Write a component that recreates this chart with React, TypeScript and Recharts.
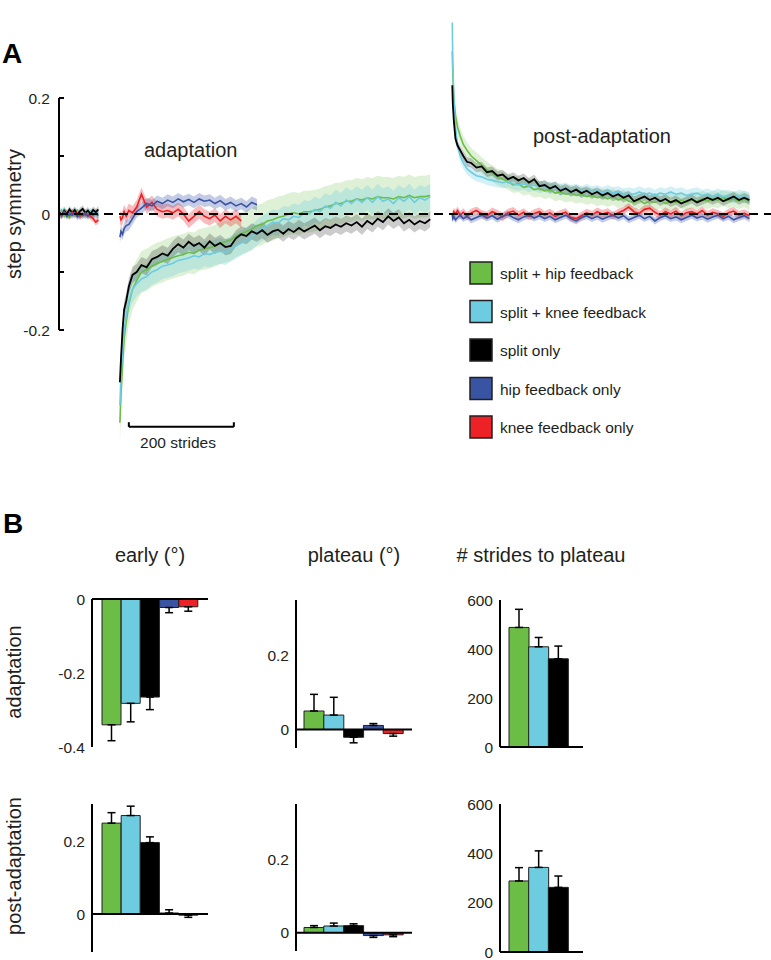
import React from "react";
import {
  Area,
  Bar,
  BarChart,
  Cell,
  ComposedChart,
  ErrorBar,
  Line,
  ReferenceLine,
  XAxis,
  YAxis,
} from "recharts";

const FONT = "'Liberation Sans', Arial, Helvetica, sans-serif";
const INK = "#231f20";

// groups, in legend order
const groupNames = [
  "split + hip feedback",
  "split + knee feedback",
  "split only",
  "hip feedback only",
  "knee feedback only",
];
const groupKeys = ["green", "cyan", "black", "blue", "red"];
const groupColors = ["#6bbd45", "#6dcce0", "#000000", "#3a54a4", "#ec2227"];
const bandOpacity = [0.22, 0.3, 0.2, 0.3, 0.3];
// draw order for the traces (blue on top)
const drawOrder = ["green", "cyan", "black", "red", "blue"];

// ---- panel A: step symmetry per stride ----
const baseStrides = [0, 5, 10, 15, 20, 25, 30, 35, 40, 45, 50, 55, 60, 65, 70, 75];
const baseGreen = [0.0, 0.006, -0.004, 0.004, -0.006, 0.002, -0.002, 0.006, -0.005, 0.003, -0.003, 0.004, -0.004, 0.002, -0.002, 0.0];
const baseCyan = [0.006, 0.002, 0.008, -0.002, 0.004, 0.0, 0.006, 0.002, -0.003, 0.004, 0.001, -0.002, 0.005, 0.0, 0.003, -0.001];
const baseBlack = [0.004, -0.002, 0.006, 0.0, 0.008, 0.002, 0.007, -0.001, 0.005, 0.009, 0.002, 0.006, 0.0, 0.007, 0.003, 0.008];
const baseBlue = [0.0, -0.003, 0.003, -0.004, 0.001, -0.002, 0.002, -0.005, 0.0, -0.003, 0.002, -0.004, 0.0, -0.002, 0.001, -0.003];
const baseRed = [0.002, -0.002, 0.004, 0.0, -0.003, 0.003, -0.001, 0.002, -0.004, 0.001, -0.002, 0.0, -0.004, -0.008, -0.014, -0.01];

const adaptStrides = [
  116, 118, 121, 124, 128, 133, 140, 148, 157,
  167, 177, 187, 197, 207, 217, 227, 237, 247, 257,
  267, 277, 287, 297, 307, 317, 327, 337, 347, 357,
  367, 377, 387, 397, 407, 417, 427, 437, 447, 457,
  467, 477, 487, 497, 507, 517, 527, 537, 547, 557,
  567, 577, 587, 597, 607, 617, 627, 637, 647, 657,
  667, 677, 687, 697, 707,
];
const adaptGreen = [
  -0.36, -0.31, -0.26, -0.215, -0.185, -0.155, -0.13, -0.115, -0.1,
  -0.096, -0.09, -0.085, -0.082, -0.078, -0.075, -0.072, -0.07, -0.066, -0.068,
  -0.062, -0.06, -0.058, -0.055, -0.05, -0.048, -0.045, -0.038, -0.034, -0.03,
  -0.026, -0.02, -0.018, -0.012, -0.01, -0.006, -0.004, 0.0, 0.002, 0.0,
  0.004, 0.004, 0.006, 0.008, 0.012, 0.014, 0.018, 0.018, 0.022, 0.022,
  0.026, 0.024, 0.028, 0.026, 0.03, 0.028, 0.028, 0.026, 0.03, 0.028,
  0.032, 0.028, 0.03, 0.03, 0.032,
];
const adaptCyan = [
  -0.33, -0.28, -0.235, -0.2, -0.175, -0.15, -0.13, -0.12, -0.112,
  -0.108, -0.1, -0.096, -0.09, -0.088, -0.085, -0.08, -0.078, -0.076, -0.072,
  -0.074, -0.068, -0.07, -0.066, -0.064, -0.066, -0.06, -0.055, -0.05, -0.045,
  -0.04, -0.032, -0.025, -0.02, -0.014, -0.016, -0.008, -0.01, -0.004, -0.006,
  0.002, 0.0, 0.008, 0.004, 0.014, 0.01, 0.02, 0.014, 0.024, 0.018,
  0.026, 0.02, 0.028, 0.02, 0.03, 0.022, 0.026, 0.018, 0.028, 0.022,
  0.03, 0.02, 0.028, 0.024, 0.03,
];
const adaptBlack = [
  -0.29, -0.25, -0.2, -0.165, -0.15, -0.125, -0.105, -0.1, -0.088,
  -0.092, -0.078, -0.074, -0.068, -0.072, -0.06, -0.052, -0.058, -0.048, -0.055,
  -0.05, -0.058, -0.047, -0.055, -0.05, -0.057, -0.055, -0.042, -0.035, -0.038,
  -0.03, -0.034, -0.028, -0.036, -0.03, -0.027, -0.034, -0.026, -0.031, -0.024,
  -0.03, -0.025, -0.02, -0.028, -0.021, -0.024, -0.018, -0.022, -0.016, -0.02,
  -0.014, -0.022, -0.012, -0.018, -0.008, -0.014, -0.004, -0.012, -0.006, -0.016,
  -0.01, -0.018, -0.012, -0.016, -0.009,
];
// hip / knee feedback only were recorded for a shorter adaptation period
const adaptBlue = [
  -0.04, -0.03, -0.035, -0.025, -0.02, -0.018, -0.008, 0.004, 0.01,
  0.018, 0.014, 0.022, 0.018, 0.024, 0.02, 0.026, 0.021, 0.025, 0.02,
  0.026, 0.022, 0.024, 0.018, 0.023, 0.016, 0.02, 0.014, 0.018, 0.012,
  0.02, 0.016,
];
const adaptRed = [
  -0.004, -0.01, -0.006, 0.004, -0.004, 0.006, 0.002, 0.012, 0.034,
  0.012, 0.02, 0.008, 0.004, 0.006, 0.002, 0.008, 0.0, -0.012, -0.004,
  0.004, -0.004, -0.008, -0.002, -0.012, -0.004, -0.01, -0.004, -0.012,
];

const postStrides = [
  749, 750, 752, 755, 759, 764, 770, 777, 785, 795,
  805, 815, 825, 835, 845, 855, 865, 875, 885, 895,
  905, 915, 925, 935, 945, 955, 965, 975, 985, 995,
  1005, 1015, 1025, 1035, 1045, 1055, 1065, 1075, 1085, 1095,
  1105, 1115, 1125, 1135, 1145, 1155, 1165, 1175, 1185, 1195,
  1205, 1215, 1225, 1235, 1245, 1255, 1265, 1275, 1285, 1295,
  1305, 1315,
];
const postGreen = [
  0.28, 0.24, 0.2, 0.17, 0.15, 0.135, 0.12, 0.11, 0.1, 0.092,
  0.084, 0.076, 0.07, 0.064, 0.06, 0.056, 0.05, 0.052, 0.046, 0.048,
  0.042, 0.044, 0.04, 0.042, 0.036, 0.038, 0.034, 0.036, 0.032, 0.034,
  0.03, 0.032, 0.028, 0.03, 0.026, 0.03, 0.024, 0.028, 0.022, 0.02,
  0.024, 0.018, 0.022, 0.02, 0.024, 0.018, 0.022, 0.02, 0.024, 0.02,
  0.024, 0.022, 0.026, 0.022, 0.026, 0.024, 0.028, 0.024, 0.026, 0.022,
  0.026, 0.02,
];
const postCyan = [
  0.33, 0.26, 0.2, 0.15, 0.12, 0.1, 0.088, 0.078, 0.072, 0.066,
  0.064, 0.06, 0.058, 0.056, 0.054, 0.056, 0.052, 0.05, 0.052, 0.048,
  0.05, 0.046, 0.048, 0.044, 0.046, 0.042, 0.044, 0.04, 0.042, 0.038,
  0.042, 0.038, 0.04, 0.036, 0.04, 0.036, 0.038, 0.034, 0.036, 0.034,
  0.038, 0.034, 0.036, 0.032, 0.036, 0.034, 0.038, 0.034, 0.036, 0.032,
  0.034, 0.036, 0.032, 0.034, 0.03, 0.034, 0.03, 0.032, 0.028, 0.032,
  0.03, 0.028,
];
const postBlack = [
  0.222, 0.19, 0.16, 0.13, 0.118, 0.11, 0.1, 0.09, 0.088, 0.08,
  0.082, 0.072, 0.074, 0.066, 0.068, 0.06, 0.064, 0.058, 0.062, 0.054,
  0.06, 0.048, 0.05, 0.044, 0.048, 0.04, 0.044, 0.038, 0.042, 0.036,
  0.04, 0.034, 0.038, 0.032, 0.036, 0.03, 0.034, 0.028, 0.032, 0.022,
  0.026, 0.03, 0.024, 0.028, 0.022, 0.026, 0.02, 0.024, 0.018, 0.022,
  0.026, 0.02, 0.024, 0.028, 0.024, 0.028, 0.022, 0.026, 0.03, 0.024,
  0.028, 0.024,
];
const postBlue = [
  -0.002, -0.008, -0.004, -0.01, -0.006, -0.002, -0.008, -0.004, -0.01, -0.006,
  -0.002, -0.007, -0.003, -0.009, -0.004, -0.001, -0.006, -0.01, -0.005, -0.002,
  -0.007, -0.003, -0.008, -0.004, -0.01, -0.006, -0.002, -0.008, -0.012, -0.006,
  -0.003, -0.008, -0.004, -0.009, -0.005, -0.002, -0.007, -0.003, -0.01, -0.006,
  -0.002, -0.008, -0.004, -0.012, -0.006, -0.003, -0.008, -0.005, -0.01, -0.006,
  -0.002, -0.007, -0.004, -0.009, -0.005, -0.002, -0.008, -0.004, -0.01, -0.006,
  -0.003, -0.008,
];
const postRed = [
  0.002, -0.004, 0.004, 0.0, 0.006, -0.002, 0.003, -0.004, 0.002, 0.006,
  0.0, -0.003, 0.004, 0.0, -0.005, 0.002, 0.005, -0.002, 0.003, -0.004,
  0.001, 0.004, -0.002, 0.002, -0.004, 0.0, 0.003, -0.006, -0.008, -0.003,
  0.002, -0.002, 0.004, 0.0, 0.003, -0.003, 0.002, 0.006, 0.012, 0.004,
  0.001, 0.008, 0.01, 0.003, -0.002, 0.004, 0.0, 0.005, -0.003, 0.002,
  0.004, 0.0, 0.006, -0.002, 0.003, 0.0, -0.004, 0.002, 0.005, -0.002,
  0.001, -0.003,
];

// s.e.m. half-widths of the shaded bands, order green, cyan, black, blue, red
const baseSem = [0.006, 0.006, 0.006, 0.006, 0.006];
const adaptSem = [0.036, 0.022, 0.014, 0.01, 0.012];
const postSem = [0.014, 0.01, 0.008, 0.006, 0.007];

const segments = [
  { strides: baseStrides, values: [baseGreen, baseCyan, baseBlack, baseBlue, baseRed], sem: baseSem, gapAfter: 96 },
  { strides: adaptStrides, values: [adaptGreen, adaptCyan, adaptBlack, adaptBlue, adaptRed], sem: adaptSem, gapAfter: 728 },
  { strides: postStrides, values: [postGreen, postCyan, postBlack, postBlue, postRed], sem: postSem, gapAfter: null },
];

type Row = { [k: string]: number | [number, number] | null };

function buildTraceRows(): Row[] {
  const rows: Row[] = [];
  segments.forEach((seg) => {
    seg.strides.forEach((s, i) => {
      const row: Row = { s };
      groupKeys.forEach((k, g) => {
        const v = seg.values[g][i];
        if (v === undefined) {
          row[k] = null;
          row[k + "Band"] = null;
        } else {
          row[k] = v;
          row[k + "Band"] = [v - seg.sem[g], v + seg.sem[g]];
        }
      });
      rows.push(row);
    });
    if (seg.gapAfter !== null) {
      const gap: Row = { s: seg.gapAfter };
      groupKeys.forEach((k) => {
        gap[k] = null;
        gap[k + "Band"] = null;
      });
      rows.push(gap);
    }
  });
  return rows;
}

const traceRows = buildTraceRows();
const traceTicks = [-0.2, -0.1, 0, 0.1, 0.2];

// ---- panel B: summary bars ----
const earlyAdapt = [-0.34, -0.282, -0.265, -0.023, -0.021];
const earlyAdaptErr = [0.043, 0.05, 0.034, 0.014, 0.012];
const plateauAdapt = [0.05, 0.039, -0.021, 0.011, -0.011];
const plateauAdaptErr = [0.045, 0.048, 0.015, 0.005, 0.007];
const stridesAdapt = [488, 409, 360];
const stridesAdaptErr = [74, 38, 52];
const earlyPost = [0.252, 0.273, 0.198, 0.003, -0.003];
const earlyPostErr = [0.029, 0.026, 0.016, 0.009, 0.006];
const plateauPost = [0.014, 0.018, 0.019, -0.008, -0.006];
const plateauPostErr = [0.005, 0.008, 0.005, 0.005, 0.005];
const stridesPost = [288, 343, 262];
const stridesPostErr = [54, 67, 46];

function SymmetryTick(props: any) {
  const { x, y, payload } = props;
  const v = payload.value;
  const label = Math.abs(v) === 0.1 ? "" : String(v);
  return (
    <g>
      <line x1={x} x2={x + 5} y1={y} y2={y} stroke="#000" strokeWidth={2} />
      {label ? (
        <text x={x - 9} y={y} dy="0.36em" textAnchor="end" fontSize={15.5} fill={INK} fontFamily={FONT}>
          {label}
        </text>
      ) : null}
    </g>
  );
}

function TracePanel() {
  return (
    <div style={{ position: "absolute", left: 0, top: 0 }}>
      <ComposedChart width={771} height={460} data={traceRows} margin={{ top: 11, right: 0, bottom: 14, left: 0 }}>
        <XAxis type="number" dataKey="s" domain={[0, 1356]} hide allowDataOverflow />
        <YAxis
          type="number"
          domain={[-0.4, 0.35]}
          ticks={traceTicks}
          interval={0}
          width={59}
          axisLine={false}
          tickLine={false}
          tickSize={0}
          tickMargin={0}
          tick={(p: any) => <SymmetryTick {...p} />}
          allowDataOverflow
        />
        {drawOrder.map((k) => {
          const g = groupKeys.indexOf(k);
          return (
            <Area
              key={k + "Band"}
              type="linear"
              dataKey={k + "Band"}
              stroke="none"
              fill={groupColors[g]}
              fillOpacity={bandOpacity[g]}
              dot={false}
              activeDot={false}
              isAnimationActive={false}
            />
          );
        })}
        {drawOrder.map((k) => {
          const g = groupKeys.indexOf(k);
          return (
            <Line
              key={k}
              type="linear"
              dataKey={k}
              stroke={groupColors[g]}
              strokeWidth={k === "black" ? 1.8 : 1.6}
              dot={false}
              activeDot={false}
              isAnimationActive={false}
            />
          );
        })}
        <ReferenceLine y={0} stroke="#000" strokeWidth={2} strokeDasharray="9 6" />
        <ReferenceLine segment={[{ x: 0, y: -0.2 }, { x: 0, y: 0.2 }]} stroke="#000" strokeWidth={2} />
        <ReferenceLine segment={[{ x: 133, y: -0.367 }, { x: 333, y: -0.367 }]} stroke="#000" strokeWidth={2} />
        <ReferenceLine segment={[{ x: 133, y: -0.367 }, { x: 133, y: -0.359 }]} stroke="#000" strokeWidth={2} />
        <ReferenceLine segment={[{ x: 333, y: -0.367 }, { x: 333, y: -0.359 }]} stroke="#000" strokeWidth={2} />
      </ComposedChart>
    </div>
  );
}

type BarPanelProps = {
  values: number[];
  errs: number[];
  domain: [number, number];
  ticks: number[];
  axisX: number;
  plotRight: number;
  plotTop: number;
  plotBottom: number;
  padL: number;
  padR: number;
};

function BarPanel({ values, errs, domain, ticks, axisX, plotRight, plotTop, plotBottom, padL, padR }: BarPanelProps) {
  const left = axisX - 72;
  const top = plotTop - 14;
  const width = plotRight - left + 12;
  const height = plotBottom - top + 13;
  const data = values.map((v, i) => ({
    name: groupKeys[i],
    value: v,
    err: v < 0 ? [errs[i], 0] : [0, errs[i]],
  }));
  return (
    <div style={{ position: "absolute", left, top }}>
      <BarChart
        width={width}
        height={height}
        data={data}
        margin={{ top: 14, right: 12, bottom: 13, left: 0 }}
        barCategoryGap={0}
        barGap={0}
      >
        <XAxis dataKey="name" hide padding={{ left: padL, right: padR }} />
        <YAxis
          type="number"
          domain={domain}
          ticks={ticks}
          interval={0}
          width={72}
          axisLine={{ stroke: "#000", strokeWidth: 2 }}
          tickLine={false}
          tickSize={5}
          tickMargin={2}
          tick={{ fontSize: 15.5, fill: INK, fontFamily: FONT }}
          allowDataOverflow
        />
        <Bar dataKey="value" stroke={INK} strokeWidth={1} isAnimationActive={false}>
          {data.map((d, i) => (
            <Cell key={d.name} fill={groupColors[i]} />
          ))}
          <ErrorBar dataKey="err" direction="y" width={4} stroke="#000" strokeWidth={1.5} />
        </Bar>
        <ReferenceLine y={0} stroke="#000" strokeWidth={2} />
      </BarChart>
    </div>
  );
}

function Labels() {
  const t = { fontFamily: FONT, fill: INK };
  return (
    <svg width={771} height={960} style={{ position: "absolute", left: 0, top: 0, pointerEvents: "none" }}>
      <text x={2} y={63} fontSize={28} fontWeight="bold" {...t} fill="#000">A</text>
      <text x={3} y={533} fontSize={28} fontWeight="bold" {...t} fill="#000">B</text>
      <text x={144} y={157} fontSize={20} {...t}>adaptation</text>
      <text x={533} y={143} fontSize={20} {...t}>post-adaptation</text>
      <text x={21} y={214} fontSize={20} textAnchor="middle" transform="rotate(-90 21 214)" {...t}>
        step symmetry
      </text>
      <text x={178} y={448} fontSize={15.5} textAnchor="middle" {...t}>200 strides</text>
      {groupNames.map((name, i) => {
        const y = 262 + 38.5 * i;
        return (
          <g key={name}>
            <rect x={470} y={y} width={22} height={22} fill={groupColors[i]} stroke={INK} strokeWidth={1.5} />
            <text x={500} y={y + 17} fontSize={15.5} {...t}>{name}</text>
          </g>
        );
      })}
      <text x={150} y={562} fontSize={20} textAnchor="middle" {...t}>early (°)</text>
      <text x={354} y={562} fontSize={20} textAnchor="middle" {...t}>plateau (°)</text>
      <text x={541} y={562} fontSize={20} textAnchor="middle" {...t}># strides to plateau</text>
      <text x={21} y={672} fontSize={20} textAnchor="middle" transform="rotate(-90 21 672)" {...t}>
        adaptation
      </text>
      <text x={21} y={866} fontSize={20} textAnchor="middle" transform="rotate(-90 21 866)" {...t}>
        post-adaptation
      </text>
    </svg>
  );
}

export default function App() {
  return (
    <div style={{ position: "absolute", left: 0, top: 0, width: 771, height: 960, background: "#fff", fontFamily: FONT }}>
      <TracePanel />
      <BarPanel values={earlyAdapt} errs={earlyAdaptErr} domain={[-0.4, 0]} ticks={[-0.4, -0.2, 0]}
        axisX={92} plotRight={208} plotTop={599} plotBottom={747} padL={10} padR={10} />
      <BarPanel values={plateauAdapt} errs={plateauAdaptErr} domain={[-0.05, 0.35]} ticks={[0, 0.2]}
        axisX={296} plotRight={412} plotTop={600} plotBottom={748} padL={8} padR={9} />
      <BarPanel values={stridesAdapt} errs={stridesAdaptErr} domain={[0, 600]} ticks={[0, 200, 400, 600]}
        axisX={500} plotRight={583} plotTop={600} plotBottom={747} padL={9} padR={15} />
      <BarPanel values={earlyPost} errs={earlyPostErr} domain={[-0.105, 0.305]} ticks={[0, 0.2]}
        axisX={92} plotRight={208} plotTop={804} plotBottom={952} padL={10} padR={10} />
      <BarPanel values={plateauPost} errs={plateauPostErr} domain={[-0.05, 0.35]} ticks={[0, 0.2]}
        axisX={296} plotRight={412} plotTop={804} plotBottom={951} padL={8} padR={9} />
      <BarPanel values={stridesPost} errs={stridesPostErr} domain={[0, 600]} ticks={[0, 200, 400, 600]}
        axisX={500} plotRight={583} plotTop={804} plotBottom={952} padL={9} padR={15} />
      <Labels />
    </div>
  );
}
